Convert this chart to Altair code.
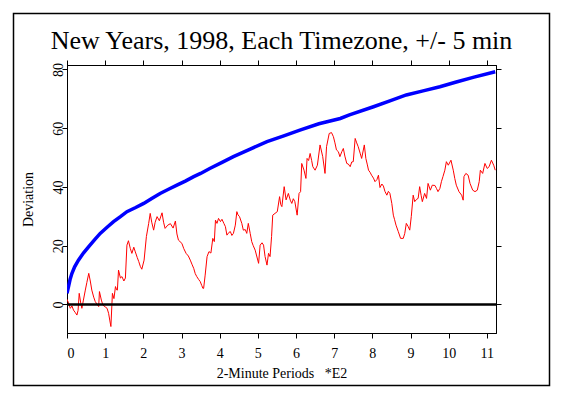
import altair as alt
import pandas as pd

# ---- data ----
red_x = [0.00, 0.04, 0.086, 0.13, 0.17, 0.22, 0.26, 0.29, 0.32, 0.36, 0.39, 0.43, 0.48, 0.52, 0.57,
         0.61, 0.65, 0.70, 0.74, 0.79, 0.83, 0.85, 0.90, 0.94, 1.00, 1.05, 1.09, 1.12, 1.15, 1.19,
         1.23, 1.27, 1.30, 1.32, 1.35, 1.40, 1.44, 1.49, 1.53, 1.57, 1.61, 1.66, 1.70, 1.75, 1.79,
         1.84, 1.88, 1.92, 1.96, 2.02, 2.08, 2.14, 2.18, 2.22, 2.27, 2.31, 2.36, 2.42, 2.49, 2.53,
         2.57, 2.64, 2.71, 2.78, 2.84, 2.88, 2.92, 3.01, 3.06, 3.12, 3.18, 3.23, 3.28, 3.32, 3.36,
         3.40, 3.45, 3.49, 3.53, 3.56, 3.58, 3.62, 3.67, 3.72, 3.77, 3.82, 3.86, 3.89, 3.93, 3.97,
         4.02, 4.06, 4.11, 4.15, 4.19, 4.24, 4.28, 4.32, 4.36, 4.41, 4.45, 4.48, 4.52, 4.58, 4.62,
         4.67, 4.71, 4.75, 4.80, 4.84, 4.88, 4.93, 4.97, 5.02, 5.06, 5.11, 5.15, 5.19, 5.24, 5.28,
         5.32, 5.36, 5.39, 5.45, 5.51, 5.57, 5.60, 5.63, 5.69, 5.74, 5.80, 5.85, 5.89, 5.93, 5.97,
         6.03, 6.08, 6.12, 6.15, 6.21, 6.26, 6.29, 6.33, 6.37, 6.41, 6.44, 6.50, 6.56, 6.63, 6.70,
         6.76, 6.80, 6.87, 6.93, 6.98, 7.02, 7.06, 7.11, 7.15, 7.20, 7.24, 7.28, 7.33, 7.37, 7.42,
         7.46, 7.50, 7.55, 7.59, 7.63, 7.68, 7.72, 7.79, 7.83, 7.87, 7.90, 7.94, 7.98, 8.03, 8.07,
         8.12, 8.16, 8.20, 8.25, 8.29, 8.33, 8.38, 8.42, 8.46, 8.51, 8.55, 8.58, 8.62, 8.68, 8.74,
         8.81, 8.85, 8.89, 8.94, 8.98, 9.02, 9.07, 9.11, 9.16, 9.20, 9.24, 9.28, 9.31, 9.37, 9.42,
         9.46, 9.52, 9.57, 9.64, 9.68, 9.72, 9.77, 9.81, 9.85, 9.90, 9.94, 9.99, 10.06, 10.12, 10.16,
         10.20, 10.27, 10.34, 10.38, 10.40, 10.45, 10.51, 10.56, 10.63, 10.69, 10.75, 10.80, 10.83,
         10.89, 10.95, 11.01, 11.06, 11.12, 11.18, 11.22]
red_y = [1.8, 0.5, -1.3, -0.5, -1.9, -2.8, -3.6, -2.0, 3.8, 0.5, -1.3, 1.5, 4.9, 7.5, 10.6,
         8.0, 4.9, 2.5, 1.0, 0.0, -0.7, 4.4, 1.5, -0.2, -0.8, -1.3, -3.0, -5.3, -7.5, 3.8,
         2.0, 6.1, 5.0, 4.9, 11.7, 9.0, 9.5, 8.0, 9.0, 20.2, 21.7, 19.0, 17.4, 19.5, 17.9,
         16.0, 14.6, 13.0, 12.0, 15.1, 23.1, 27.6, 31.0, 28.0, 25.3, 28.0, 29.9, 28.5, 31.2, 28.0,
         25.9, 27.0, 27.5, 26.0, 28.4, 24.0, 21.9, 20.8, 19.0, 17.4, 16.5, 15.1, 13.5, 12.3, 10.5,
         9.5, 8.5, 7.8, 6.5, 5.5, 5.5, 10.0, 16.3, 18.0, 17.5, 22.5, 21.4, 28.7, 27.6, 29.3,
         28.2, 29.0, 27.6, 26.5, 23.6, 24.5, 24.8, 23.5, 24.2, 27.0, 31.6, 30.5, 29.9, 27.6, 25.3,
         25.5, 24.2, 27.6, 24.2, 21.4, 20.0, 18.5, 16.5, 14.0, 20.2, 21.0, 20.2, 16.3, 13.4, 17.4,
         16.3, 23.1, 30.4, 31.0, 31.6, 36.7, 34.0, 33.3, 40.1, 35.6, 37.8, 35.5, 34.4, 36.0, 35.0,
         30.4, 37.8, 38.4, 48.0, 45.7, 42.9, 49.7, 49.0, 51.4, 49.0, 46.9, 45.7, 47.4, 54.3, 50.3,
         44.6, 53.7, 58.2, 58.5, 57.1, 55.0, 52.6, 52.0, 50.3, 52.0, 53.1, 50.5, 48.0, 47.8, 46.9,
         48.5, 48.6, 56.5, 55.0, 53.7, 51.5, 49.7, 54.3, 49.7, 47.5, 45.7, 45.0, 44.0, 43.0, 41.8,
         42.5, 44.0, 39.8, 41.0, 40.3, 38.5, 37.2, 38.5, 37.8, 34.4, 30.4, 29.0, 27.0, 24.8, 22.5,
         22.5, 24.2, 27.6, 26.5, 25.3, 29.9, 37.2, 35.0, 35.8, 36.1, 40.1, 37.0, 35.0, 37.8, 36.1,
         41.2, 38.9, 40.6, 40.5, 39.5, 38.4, 39.5, 41.8, 43.5, 45.7, 48.6, 47.4, 49.1, 45.7, 42.9,
         40.6, 38.4, 37.2, 35.5, 43.5, 44.6, 44.0, 41.2, 38.9, 38.4, 38.9, 41.8, 45.7,
         44.6, 48.0, 46.3, 46.9, 49.1, 47.4, 45.7]

blue_x = [0.00, 0.02, 0.04, 0.08, 0.13, 0.20, 0.30, 0.43, 0.57, 0.72, 0.87, 1.05, 1.22, 1.40,
          1.57, 1.80, 2.01, 2.22, 2.44, 2.66, 2.88, 3.10, 3.32, 3.50, 3.74, 4.05, 4.36, 4.80,
          5.24, 5.68, 6.12, 6.60, 7.16, 7.40, 8.03, 8.46, 8.89, 9.33, 9.77, 10.20, 10.64, 11.22]
blue_y = [3.8, 5.0, 6.1, 8.5, 10.6, 12.8, 15.1, 17.5, 19.7, 22.0, 24.2, 26.3, 28.2, 29.9,
          31.6, 33.0, 34.4, 36.1, 37.8, 39.2, 40.6, 42.0, 43.5, 44.6, 46.3, 48.3, 50.3, 52.9,
          55.4, 57.4, 59.4, 61.5, 63.3, 64.5, 67.3, 69.3, 71.3, 72.7, 74.1, 75.7, 77.3, 79.2]

x_ticks = [0, 1, 2, 3, 4, 5, 6, 7, 8, 9, 10, 11]
y_ticks = [0, 20, 40, 60, 80]
x_domain = [0, 11.24]
y_domain = [-9.7, 81.5]

title_text = "New Years, 1998, Each Timezone, +/- 5 min"
x_title = "2-Minute Periods\u00a0\u00a0\u00a0*E2"
y_title = "Deviation"

df_red = pd.DataFrame({"x": red_x, "y": red_y})
df_blue = pd.DataFrame({"x": blue_x, "y": blue_y})
df_zero = pd.DataFrame({"y": [0]})

W, H = 429, 268
FONT = "Liberation Serif"

xs = alt.Scale(domain=x_domain, nice=False, zero=False)
ys = alt.Scale(domain=y_domain, nice=False, zero=False)

common = dict(grid=False, domainColor="black", tickColor="black", labelColor="black",
              titleColor="black", labelFont=FONT, titleFont=FONT, titleFontWeight="normal",
              domainWidth=1, tickWidth=1, tickSize=5)

red = alt.Chart(df_red).mark_line(color="#ff0000", strokeWidth=1, clip=True).encode(
    x=alt.X("x:Q", scale=xs, axis=alt.Axis(orient="bottom", values=x_ticks, title=x_title,
                                            labelPadding=8, titlePadding=6,
                                            labelFontSize=14, titleFontSize=14, format="d",
                                            **common)),
    y=alt.Y("y:Q", scale=ys, axis=alt.Axis(orient="left", values=y_ticks, title=y_title,
                                            labelAngle=-90, labelAlign="center",
                                            labelBaseline="alphabetic", labelPadding=0,
                                            titlePadding=16, labelFontSize=14, titleFontSize=14,
                                            format="d", **common)),
)

blue = alt.Chart(df_blue).mark_line(color="#0000ff", strokeWidth=3.5, clip=True).encode(
    x=alt.X("x:Q", scale=xs, axis=alt.Axis(orient="top", values=x_ticks, title=None,
                                            labels=False, **common)),
    y=alt.Y("y:Q", scale=ys, axis=alt.Axis(orient="right", values=y_ticks, title=None,
                                            labels=False, **common)),
)

zero = alt.Chart(df_zero).mark_rule(color="black", strokeWidth=2.5).encode(
    y=alt.Y("y:Q", scale=ys, axis=None)
)

dummy = alt.Data(values=[{"a": 1}])

frame = alt.Chart(dummy).mark_rect(fill=None, stroke="black", strokeWidth=1.5).encode(
    x=alt.value(-53.5), x2=alt.value(482.5), y=alt.value(-51.5), y2=alt.value(320.5)
)

title = alt.Chart(dummy).mark_text(
    font=FONT, fontSize=26, color="black", align="center", baseline="alphabetic"
).encode(x=alt.value(W / 2), y=alt.value(-16), text=alt.value(title_text))

chart = alt.layer(blue, red, zero, frame, title).resolve_axis(
    x="independent", y="independent"
).properties(
    width=W, height=H,
    background="white",
    autosize=alt.AutoSizeParams(type="none"),
    padding={"left": 59, "top": 57, "right": 56, "bottom": 56},
).configure_view(
    stroke="black", strokeWidth=1
)

chart.save("out.html", embed_options={"renderer": "svg", "actions": False})
